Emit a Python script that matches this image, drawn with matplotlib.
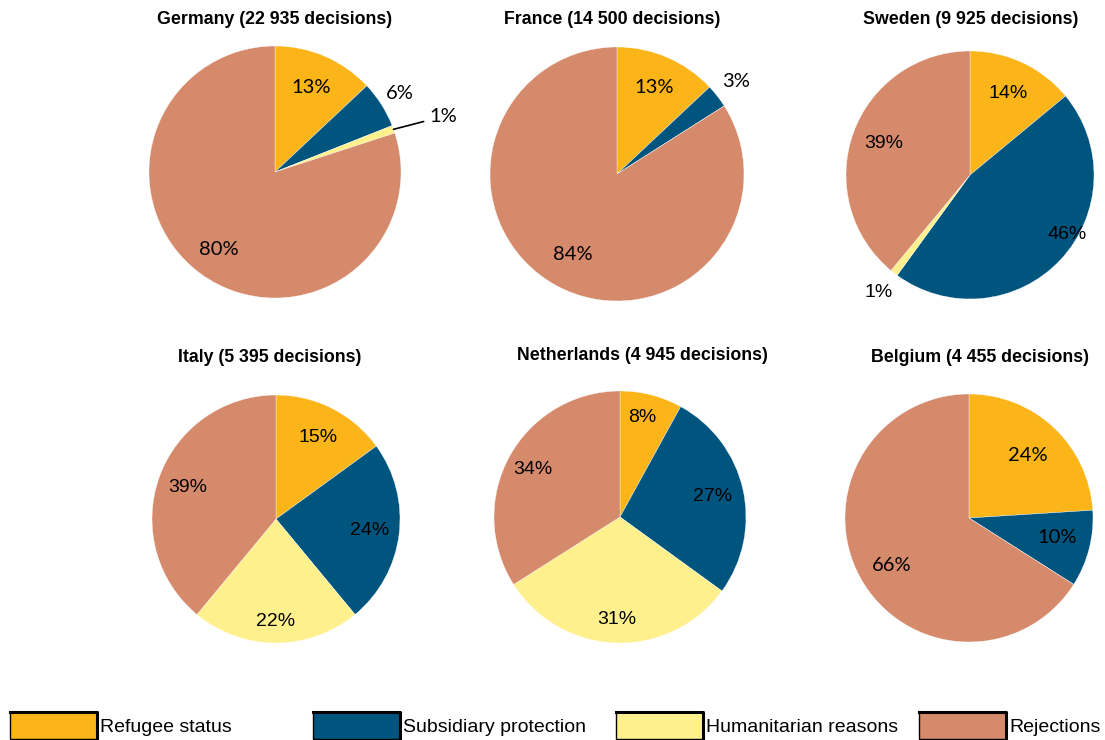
import matplotlib
matplotlib.use('Agg')
import matplotlib.pyplot as plt
import numpy as np
from matplotlib.patches import Rectangle
from matplotlib.lines import Line2D

# ---------------- data ----------------
countries = ['Germany', 'France', 'Sweden', 'Italy', 'Netherlands', 'Belgium']
decisions = ['22 935', '14 500', '9 925', '5 395', '4 945', '4 455']
categories = ['Refugee status', 'Subsidiary protection', 'Humanitarian reasons', 'Rejections']
colors = ['#FBB519', '#00557F', '#FFF08E', '#D68A6C']
refugee = [13, 13, 14, 15, 8, 24]
subsidiary = [6, 3, 46, 24, 27, 10]
humanitarian = [1, 0, 1, 22, 31, 0]
rejections = [80, 84, 39, 39, 34, 66]

# ---------------- layout ----------------
W, H = 1105, 740
fig = plt.figure(figsize=(W / 100, H / 100), dpi=100)

centers = [(275, 172), (617, 174), (970, 175), (276, 519), (620, 517), (969, 518)]
radii = [126, 127, 124, 124, 126, 124]
title_pos = [(275, 20), (612, 20), (971, 20), (270, 357), (642, 356), (980, 358)]
label_dist = [[0.73, 1.17, 1.30, 0.76],
              [0.74, 1.19, 0.0, 0.72],
              [0.73, 0.92, 1.20, 0.74],
              [0.74, 0.76, 0.83, 0.76],
              [0.81, 0.75, 0.81, 0.79],
              [0.69, 0.73, 0.0, 0.73]]
label_shift = [[0, 0, 0, 0],
               [0, 0, 0, 0],
               [0, -12, 0, 0],
               [0, 0, 0, 0],
               [-2, 0, 0, 0],
               [0, -2, 0, -3]]
leader = [[False, False, True, False]] + [[False] * 4] * 5
calibri_like = dict(family=['Lato', 'DejaVu Sans'], fontsize=14.5)
arial_like = dict(family=['Liberation Sans', 'DejaVu Sans'], fontsize=14)
label_fonts = [calibri_like, calibri_like, arial_like, arial_like, arial_like, calibri_like]

L = 1.6

for i, c in enumerate(countries):
    cx, cy = centers[i]
    r = radii[i]
    size = 2 * r * L
    ax = fig.add_axes([(cx - size / 2) / W, 1 - (cy + size / 2) / H, size / W, size / H])
    vals = [refugee[i], subsidiary[i], humanitarian[i], rejections[i]]
    ax.pie(vals, colors=colors, startangle=90, counterclock=False, radius=1,
           wedgeprops=dict(edgecolor='white', linewidth=0.25))
    ax.set_xlim(-L, L)
    ax.set_ylim(-L, L)
    ax.set_aspect('equal')
    ax.axis('off')
    total = float(sum(vals))
    cum = 0.0
    fnt = label_fonts[i]
    for j, v in enumerate(vals):
        if v == 0:
            continue
        mid = (cum + v / 2) / total * 360
        cum += v
        ang = np.radians(mid + label_shift[i][j])
        d = label_dist[i][j]
        x, y = d * np.sin(ang), d * np.cos(ang)
        if leader[i][j]:
            ax.annotate(f'{v}%', xy=(np.sin(ang) * 1.0, np.cos(ang) * 1.0), xytext=(x, y),
                        ha='left', va='center', color='black', **fnt,
                        arrowprops=dict(arrowstyle='-', color='black', lw=1.2,
                                        shrinkA=2, shrinkB=0))
        else:
            ax.text(x, y, f'{v}%', ha='center', va='center', color='black', **fnt)
    tx, ty = title_pos[i]
    fig.text(tx / W, 1 - ty / H, f'{c} ({decisions[i]} decisions)', ha='center', va='center',
             family=['Liberation Sans', 'DejaVu Sans'], fontweight='bold', fontsize=12.8)

# ---------------- legend ----------------
leg_x = [10, 313, 616, 919]
pw, ph = 87, 27
py = 712
for k, name in enumerate(categories):
    x0 = leg_x[k]
    fig.patches.append(Rectangle((x0 / W, 1 - (py + ph) / H), pw / W, ph / H,
                                 transform=fig.transFigure, facecolor=colors[k],
                                 edgecolor='black', linewidth=1.0))
    fig.lines.append(Line2D([x0 / W, (x0 + pw) / W, (x0 + pw) / W],
                            [1 - py / H, 1 - py / H, 1 - (py + ph) / H],
                            transform=fig.transFigure, color='black', linewidth=2.2))
    fig.text((x0 + pw + 3) / W, 1 - 728 / H, name, ha='left', va='center',
             family=['Liberation Sans', 'DejaVu Sans'], fontsize=14)

fig.savefig('out.png', dpi=100)
